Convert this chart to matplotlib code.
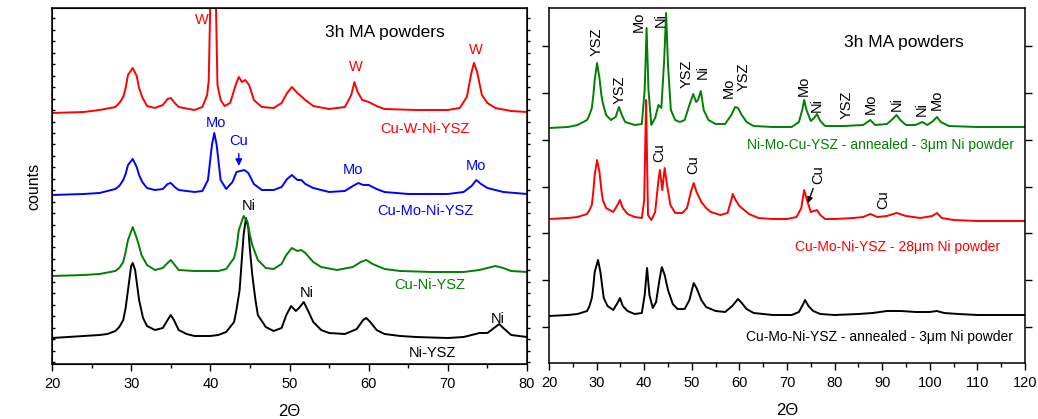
import numpy as np
import matplotlib
matplotlib.use("Agg")
import matplotlib.pyplot as plt
from matplotlib.ticker import MultipleLocator

plt.rcParams['font.family'] = ['Liberation Sans', 'DejaVu Sans']

# ---------------- data (intensity = offset counts, arbitrary units) ----------------
# Left panel, reference level 364 (value = 364 - read position)
L_REF = 364
ni_ysz_x = [20, 22, 24, 26, 27, 28, 28.5, 29, 29.3, 29.6, 30.0, 30.2, 30.5, 30.8, 31, 31.5, 32, 33, 34, 34.6, 35, 35.4, 36, 37, 38, 40, 41, 42, 43, 43.3, 43.7, 44.2, 44.5, 44.8, 45.0, 45.3, 45.7, 46, 47, 48, 49, 49.6, 50.2, 50.8, 51.2, 51.8, 52.3, 53, 54, 55, 57, 58.5, 59.3, 59.7, 60.2, 61, 62, 64, 66, 70, 72, 73.5, 74, 75, 76, 76.5, 77, 78, 80]
ni_ysz_r = [338, 337, 336, 335, 334, 331, 327, 320, 308, 290, 266, 263, 270, 288, 300, 318, 326, 330, 328, 320, 315, 320, 330, 334, 336, 336, 335, 332, 322, 310, 290, 235, 218, 228, 250, 275, 300, 315, 327, 331, 328, 315, 306, 311, 308, 302, 310, 322, 330, 333, 334, 329, 320, 318, 322, 330, 334, 336, 337, 338, 337, 334, 333, 333, 327, 324, 328, 335, 337]

cu_ni_x = [20, 24, 26, 28, 28.5, 29, 29.3, 29.6, 30.2, 30.7, 31.0, 31.3, 32, 33, 34, 34.6, 35, 35.5, 36, 38, 40, 41, 42, 43, 43.3, 43.6, 44.2, 44.7, 45.0, 45.3, 46, 47, 48, 49, 49.6, 50.3, 51, 51.5, 52, 53, 54, 56, 58, 59, 59.7, 60.5, 62, 64, 68, 72, 74, 75, 76, 77, 78, 80]
cu_ni_r = [276, 275, 274, 271, 268, 262, 252, 240, 227, 238, 246, 255, 265, 270, 268, 263, 260, 265, 270, 271, 271, 271, 269, 258, 248, 230, 216, 222, 235, 245, 260, 268, 269, 264, 255, 248, 251, 250, 253, 262, 267, 270, 267, 262, 260, 264, 269, 271, 272, 272, 270, 268, 266, 268, 271, 272]

cu_mo_x = [20, 24, 26, 28, 28.5, 29, 29.3, 29.6, 30.2, 30.7, 31.0, 31.4, 32, 33, 34, 34.6, 35, 35.5, 36, 38, 39, 39.7, 40.2, 40.5, 40.8, 41.3, 42, 42.8, 43.3, 43.8, 44.3, 44.8, 45.5, 46.5, 48, 49, 49.7, 50.3, 51, 51.5, 52, 53, 55, 57, 58, 58.7, 59.3, 60, 61, 62, 65, 70, 72, 73, 73.6, 74.2, 75, 76, 77, 80]
cu_mo_r = [195, 194, 193, 189, 186, 180, 174, 165, 159, 167, 175, 182, 188, 190, 189, 184, 183, 187, 190, 192, 191, 180, 145, 133, 145, 180, 189, 182, 172, 171, 170, 173, 184, 190, 190, 187, 179, 175, 180, 180, 184, 188, 192, 191, 186, 183, 185, 185, 189, 192, 194, 194, 192, 186, 180, 184, 188, 190, 192, 194]

cu_w_x = [20, 24, 26, 28, 28.5, 29, 29.3, 29.6, 30.2, 30.7, 31.0, 31.4, 32, 33, 34, 34.6, 35, 35.5, 36, 38, 39, 39.6, 39.8, 40.05, 40.2, 40.5, 40.65, 40.9, 41.3, 41.8, 42.5, 43.2, 43.6, 44.0, 44.4, 44.9, 45.5, 46.5, 48, 49, 49.7, 50.3, 51, 52, 53, 55, 57, 57.8, 58.2, 58.6, 59.2, 60, 61, 62, 66, 70, 71.5, 72.4, 73.0, 73.3, 73.7, 74.3, 75, 76, 78, 80]
cu_w_r = [113, 112, 110, 107, 103, 97, 88, 75, 68, 76, 88, 97, 106, 108, 105, 99, 98, 103, 107, 110, 107, 95, 80, -20, -60, -60, -20, 85, 100, 106, 103, 85, 77, 82, 80, 85, 100, 107, 108, 103, 93, 87, 93, 100, 106, 109, 107, 95, 82, 92, 100, 102, 106, 109, 110, 110, 108, 97, 72, 63, 72, 95, 103, 108, 111, 112]

# Right panel, reference level 363
R_REF = 363
an3_mocu_x = [20, 24, 26, 28, 28.5, 29, 29.3, 29.6, 30.1, 30.6, 31.0, 31.3, 32, 33, 34, 34.7, 35.3, 36, 38, 39.5, 40.1, 40.5, 40.9, 41.5, 42.3, 43, 43.6, 44.2, 44.6, 45.0, 45.6, 46.5, 47.5, 48.5, 49.5, 50.3, 50.9, 51.3, 51.9, 52.5, 53.5, 55, 57, 58.3, 59.1, 59.7, 60.5, 61.5, 63, 67, 71, 72.5, 73.2, 73.6, 74.1, 75, 75.7, 76.3, 77, 78, 82, 86, 87.5, 88.5, 91, 92.2, 93, 93.8, 95, 97, 98.4, 99.5, 100.7, 101.5, 102.3, 104, 110, 120]
an3_mocu_r = [128, 127, 125, 120, 115, 108, 96, 80, 63, 78, 95, 103, 115, 120, 117, 107, 115, 122, 125, 124, 90, 28, 90, 125, 118, 105, 108, 60, 13, 65, 110, 120, 122, 120, 105, 94, 102, 100, 91, 110, 120, 124, 124, 115, 107, 108, 115, 122, 126, 127, 127, 122, 110, 100, 110, 121, 118, 114, 121, 126, 126, 125, 120, 125, 124, 119, 115, 120, 125, 125, 122, 125, 121, 117, 122, 126, 127, 127]

mo28_x = [20, 24, 26, 28, 28.5, 29, 29.3, 29.6, 30.1, 30.6, 31.0, 31.3, 32, 33.5, 34.5, 34.9, 35.5, 36.5, 38, 39.5, 40.0, 40.2, 40.4, 40.6, 40.8, 41.5, 42.3, 43.0, 43.3, 43.8, 44.3, 44.8, 45.5, 46.5, 48, 49, 49.8, 50.4, 51, 52, 53, 54, 56, 57.5, 58.3, 58.6, 59.2, 60, 61, 62, 64, 67, 70, 72, 73.0, 73.6, 74.2, 75, 76.3, 77, 78, 80, 84, 86, 87.5, 89, 91, 93, 95, 98, 100.5, 101.5, 102.5, 105, 110, 120]
mo28_r = [219, 218, 217, 214, 210, 205, 192, 175, 160, 172, 190, 200, 208, 212, 204, 200, 208, 214, 217, 218, 200, 150, 100, 160, 215, 220, 212, 180, 170, 190, 168, 185, 205, 213, 213, 208, 192, 183, 192, 202, 208, 212, 215, 213, 200, 194, 200, 206, 210, 214, 218, 219, 219, 217, 208, 190, 200, 212, 210, 215, 219, 219, 218, 217, 214, 217, 216, 213, 216, 218, 216, 213, 218, 220, 221, 221]

an3_mo_x = [20, 24, 26, 28, 28.5, 29, 29.3, 29.6, 30.3, 30.8, 31.2, 31.5, 32.3, 33.5, 34.5, 34.9, 35.5, 36.5, 38, 39.5, 40.1, 40.6, 41.1, 41.8, 42.5, 43.2, 43.7, 44.3, 45, 46, 47, 48.5, 49.5, 50.4, 51, 52, 53, 55, 57, 58.5, 59.7, 60.5, 61.5, 63, 67, 71, 72.5, 73.3, 73.8, 74.5, 75.5, 77, 80, 85, 88, 91, 94, 97, 100, 101.5, 103, 106, 110, 120]
an3_mo_r = [316, 315, 314, 311, 306, 298, 287, 272, 260, 272, 287, 298, 306, 310, 302, 298, 306, 311, 314, 313, 295, 268, 295, 308, 302, 280, 267, 275, 290, 304, 309, 309, 300, 283, 288, 300, 307, 311, 312, 306, 299, 303, 309, 313, 315, 315, 312, 305, 300, 306, 311, 314, 315, 314, 313, 311, 311, 312, 312, 311, 313, 314, 315, 315]

RED = '#ff0000'
BLUE = '#0000ff'
GREEN = '#008000'
BLACK = '#000000'

fig = plt.figure(figsize=(10.38, 4.19), dpi=100)
axL = fig.add_axes([52/1038, 55/419, 475/1038, 356/419])
axR = fig.add_axes([549/1038, 56/419, 476/1038, 355/419])


def val(ref, r):
    return ref - np.asarray(r, dtype=float)


lw = 1.4
axL.plot(ni_ysz_x, val(L_REF, ni_ysz_r), color=BLACK, lw=lw)
axL.plot(cu_ni_x, val(L_REF, cu_ni_r), color=GREEN, lw=lw)
axL.plot(cu_mo_x, val(L_REF, cu_mo_r), color=BLUE, lw=lw)
axL.plot(cu_w_x, val(L_REF, cu_w_r), color=RED, lw=lw)

axR.plot(an3_mo_x, val(R_REF, an3_mo_r), color=BLACK, lw=lw)
axR.plot(mo28_x, val(R_REF, mo28_r), color=RED, lw=lw)
axR.plot(an3_mocu_x, val(R_REF, an3_mocu_r), color=GREEN, lw=lw)

axL.set_xlim(20, 80)
axL.set_ylim(0, 356)
axR.set_xlim(20, 120)
axR.set_ylim(0, 355)

for ax in (axL, axR):
    ax.xaxis.set_major_locator(MultipleLocator(10))
    ax.xaxis.set_minor_locator(MultipleLocator(5))
    ax.tick_params(axis='x', which='major', direction='out', length=5, width=1, labelsize=10.5, pad=4)
    ax.tick_params(axis='x', which='minor', direction='out', length=3, width=1)
    ax.set_xlabel('2Θ', fontsize=12, labelpad=10)
    for s in ax.spines.values():
        s.set_linewidth(1.1)

# left panel y ticks: inward on left, outward on right
axL.set_yticks(np.arange(2, 356, 11.45))
axL.tick_params(axis='y', which='major', direction='in', length=2.5, width=1, labelleft=False, left=True, right=False)
axL2 = axL.twinx()
axL2.set_ylim(axL.get_ylim())
axL2.set_yticks(np.arange(2, 356, 11.45))
axL2.tick_params(axis='y', direction='out', length=2.5, width=1, labelright=False)
axL.set_ylabel('counts', fontsize=11.5, labelpad=8)

axR.set_yticks(np.arange(36, 355, 46.8))
axR.tick_params(axis='y', direction='out', length=5, width=1, labelleft=False, left=True, right=True)

fs = 10.5

def tL(x, r, s, c, **kw):
    axL.text(x, L_REF - r, s, color=c, fontsize=kw.pop('fontsize', fs), ha='center', va='center', **kw)

def tR(x, r, s, c, **kw):
    axR.text(x, R_REF - r, s, color=c, fontsize=kw.pop('fontsize', fs), ha='center', va='center', **kw)

# left annotations
tL(62, 32, '3h MA powders', BLACK, fontsize=12.5)
tL(38.9, 20, 'W', RED)
tL(58.4, 67, 'W', RED)
tL(73.5, 50, 'W', RED)
tL(67.1, 129, 'Cu-W-Ni-YSZ', RED)
tL(40.7, 123, 'Mo', BLUE)
axL.annotate('Cu', xy=(43.6, L_REF - 166), xytext=(43.6, L_REF - 141), color=BLUE, fontsize=fs,
             ha='center', va='center',
             arrowprops=dict(arrowstyle='-|>', color=BLUE, lw=1, mutation_scale=10, shrinkA=2, shrinkB=0))
tL(58.0, 170, 'Mo', BLUE)
tL(73.6, 166, 'Mo', BLUE)
tL(67.2, 211, 'Cu-Mo-Ni-YSZ', BLUE)
tL(44.8, 206, 'Ni', BLACK)
tL(67.7, 285, 'Cu-Ni-YSZ', GREEN)
tL(52.2, 293, 'Ni', BLACK)
tL(76.3, 319, 'Ni', BLACK)
tL(68.0, 353, 'Ni-YSZ', BLACK)

# right annotations
tR(94.6, 42, '3h MA powders', BLACK, fontsize=12.5)
rot = dict(rotation=90)
tR(30.1, 42, 'YSZ', BLACK, **rot)
tR(34.9, 90, 'YSZ', BLACK, **rot)
tR(38.9, 22, 'Mo', BLACK, **rot)
tR(43.5, 20, 'Ni', BLACK, **rot)
tR(49.0, 74, 'YSZ', BLACK, **rot)
tR(52.3, 72, 'Ni', BLACK, **rot)
tR(57.8, 88, 'Mo', BLACK, **rot)
tR(60.8, 77, 'YSZ', BLACK, **rot)
tR(73.6, 86, 'Mo', BLACK, **rot)
tR(76.3, 105, 'Ni', BLACK, **rot)
tR(82.6, 105, 'YSZ', BLACK, **rot)
tR(87.6, 104, 'Mo', BLACK, **rot)
tR(93.1, 104, 'Ni', BLACK, **rot)
tR(98.4, 109, 'Ni', BLACK, **rot)
tR(101.5, 100, 'Mo', BLACK, **rot)
tR(89.6, 145, 'Ni-Mo-Cu-YSZ - annealed - 3μm Ni powder', GREEN, fontsize=10)
tR(43.2, 153, 'Cu', BLACK, **rot)
tR(50.3, 165, 'Cu', BLACK, **rot)
axR.annotate('Cu', xy=(74.4, R_REF - 203), xytext=(76.5, R_REF - 175), color=BLACK, fontsize=fs,
             ha='center', va='center', rotation=90,
             arrowprops=dict(arrowstyle='-|>', color=BLACK, lw=1, mutation_scale=8, shrinkA=1, shrinkB=0))
tR(90.2, 200, 'Cu', BLACK, **rot)
tR(93.3, 247, 'Cu-Mo-Ni-YSZ - 28μm Ni powder', RED, fontsize=10)
tR(89.5, 337, 'Cu-Mo-Ni-YSZ - annealed - 3μm Ni powder', BLACK, fontsize=10)

fig.savefig('out.png', dpi=100)
